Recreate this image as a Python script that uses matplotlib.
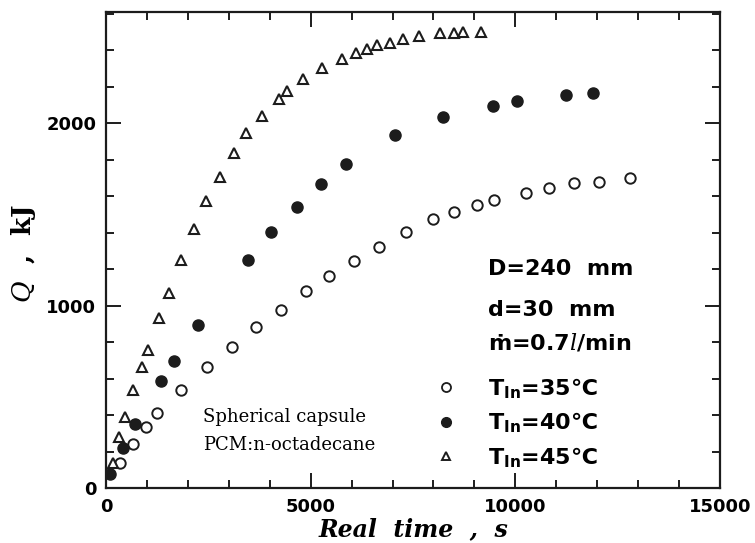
import numpy as np
import matplotlib
matplotlib.use("Agg")
import matplotlib.pyplot as plt
from matplotlib.lines import Line2D
from matplotlib.ticker import MultipleLocator

plt.rcParams['mathtext.fontset'] = 'custom'
plt.rcParams['mathtext.bf'] = 'DejaVu Sans:bold'
plt.rcParams['mathtext.it'] = 'DejaVu Serif:italic'

# Data (time in s, Q in kJ)
t35 = [341, 650, 974, 1258, 1826, 2466, 3075, 3668, 4277, 4886, 5436, 6069, 6670,
       7335, 8001, 8513, 9055, 9486, 10256, 10833, 11441, 12042, 12812]
q35 = [137, 241, 334, 411, 539, 666, 773, 882, 977, 1083, 1165, 1247, 1324,
       1406, 1474, 1514, 1551, 1580, 1616, 1644, 1671, 1680, 1699]

t40 = [97, 406, 706, 1332, 1655, 2247, 3464, 4034, 4657, 5251, 5859, 7052, 8235,
       9445, 10037, 11239, 11887]
q40 = [78, 222, 352, 588, 698, 895, 1251, 1406, 1543, 1667, 1777, 1934, 2036,
       2096, 2122, 2155, 2164]

t45 = [163, 324, 463, 665, 869, 1030, 1297, 1534, 1833, 2159, 2451, 2792, 3116,
       3425, 3805, 4236, 4423, 4813, 5282, 5777, 6103, 6371, 6614, 6938, 7247,
       7644, 8162, 8496, 8732, 9153]
q45 = [140, 283, 389, 539, 663, 758, 932, 1072, 1251, 1421, 1574, 1707, 1836,
       1945, 2040, 2135, 2179, 2243, 2301, 2352, 2387, 2405, 2429, 2442, 2460,
       2478, 2493, 2496, 2500, 2500]

labels = ["T$_\\mathbf{In}$=35\u2103", "T$_\\mathbf{In}$=40\u2103", "T$_\\mathbf{In}$=45\u2103"]

ink = '#1c1c1c'

fig = plt.figure(figsize=(7.55, 5.43), dpi=100)
ax = fig.add_axes([0.1404, 0.1007, 0.8132, 0.8772])

ax.plot(t35, q35, 'o', ls='none', ms=7.5, mfc='white', mec=ink, mew=1.4)
ax.plot(t40, q40, 'o', ls='none', ms=8.0, mfc=ink, mec=ink, mew=1.0)
ax.plot(t45, q45, '^', ls='none', ms=6.5, mfc='white', mec=ink, mew=1.5)

ax.set_xlim(0, 15000)
ax.set_ylim(0, 2610)
ax.xaxis.set_major_locator(MultipleLocator(5000))
ax.xaxis.set_minor_locator(MultipleLocator(1000))
ax.yaxis.set_major_locator(MultipleLocator(1000))
ax.yaxis.set_minor_locator(MultipleLocator(200))
ax.tick_params(which='both', direction='in', top=True, right=True, width=1.4, color=ink)
ax.tick_params(which='major', length=11, labelsize=13, pad=7)
ax.tick_params(which='minor', length=6)
for lab in ax.get_xticklabels() + ax.get_yticklabels():
    lab.set_fontweight('bold')
for sp in ax.spines.values():
    sp.set_linewidth(1.6)
    sp.set_color(ink)

ax.set_xlabel("Real  time  ,  s", family='DejaVu Serif', fontweight='bold',
              style='italic', fontsize=17, labelpad=1)
fig.text(23 / 755, 1 - 253 / 543, "$\\mathit{Q}$  ,  kJ", family='DejaVu Serif',
         fontweight='bold', fontsize=19, rotation=90, ha='center', va='center')

# condition notes
ax.text(0.622, 0.460, "D=240  mm", transform=ax.transAxes, fontsize=16,
        fontweight='bold', va='center')
ax.text(0.622, 0.374, "d=30  mm", transform=ax.transAxes, fontsize=16,
        fontweight='bold', va='center')
ax.text(0.622, 0.307, "\u1e41=0.7$\\mathit{l}$/min", transform=ax.transAxes, fontsize=16,
        fontweight='bold', va='center')
ax.text(0.158, 0.150, "Spherical capsule", transform=ax.transAxes, family='DejaVu Serif',
        fontsize=13, va='center')
ax.text(0.158, 0.091, "PCM:n-octadecane", transform=ax.transAxes, family='DejaVu Serif',
        fontsize=13, va='center')

handles = [
    Line2D([], [], marker='o', ls='none', ms=6.5, mfc='white', mec=ink, mew=1.3),
    Line2D([], [], marker='o', ls='none', ms=7.0, mfc=ink, mec=ink),
    Line2D([], [], marker='^', ls='none', ms=5.5, mfc='white', mec=ink, mew=1.4),
]
leg = ax.legend(handles, labels, loc='upper left', bbox_to_anchor=(0.536, 0.236),
                frameon=False, fontsize=16, handlelength=1.0, handletextpad=1.4,
                labelspacing=0.45, borderpad=0, borderaxespad=0)
for tx in leg.get_texts():
    tx.set_fontweight('bold')

fig.savefig("out.png", dpi=100)
